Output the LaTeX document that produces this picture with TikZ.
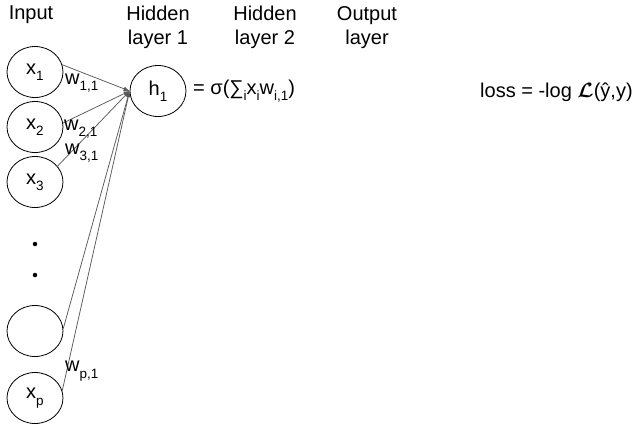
\documentclass[tikz,border=0pt]{standalone}
\usepackage{amsmath}
\usepackage{fontspec}
\setmainfont{Liberation Sans}
\usetikzlibrary{arrows.meta,shapes.geometric}
\newcommand{\lsub}[1]{\raisebox{-0.6ex}{\fontsize{13.5}{14}\selectfont #1}}
\begin{document}
\begin{tikzpicture}[x=1pt,y=-1pt,
  neuron/.style={draw, ellipse, minimum width=56pt, minimum height=51pt, inner sep=0pt, line width=0.8pt,
                 font=\fontsize{20}{24}\selectfont},
  lbl/.style={font=\fontsize{20}{24}\selectfont, align=center, inner sep=0pt, anchor=north},
  wlbl/.style={font=\fontsize{20}{24}\selectfont, inner sep=0pt, anchor=west},
  conn/.style={draw=black!65, line width=0.75pt, -{Latex[length=6pt,width=4.5pt]}},
  dotm/.style={circle, fill=black, inner sep=0pt, minimum size=4.5pt},
  ]
\useasboundingbox (0,0) rectangle (637,424);

% column titles
\node[lbl] (tin)  at (31,6)  {Input};
\node[lbl] (th1)  at (158,6) {Hidden\\layer 1};
\node[lbl] (th2)  at (265,6) {Hidden\\layer 2};
\node[lbl] (tout) at (367,6) {Output\\layer};

% input neurons
\node[neuron] (x1) at (35,72)  {x\lsub{1}};
\node[neuron] (x2) at (35,127) {x\lsub{2}};
\node[neuron] (x3) at (35,182) {x\lsub{3}};
\node[dotm] (d1) at (35,244) {};
\node[dotm] (d2) at (35,275) {};
\node[neuron] (xb) at (35,331) {};
\node[neuron] (xp) at (35,398) {x\lsub{p}};

% hidden neuron
\node[neuron] (h1) at (158,91) {h\lsub{1}};
\coordinate (hin) at (h1.west);

% connectors
\draw[conn] (x1.15)  -- (hin);
\draw[conn] (x2.8)   -- (hin);
\draw[conn] (x3.35)  -- (hin);
\draw[conn] (xb.5)   -- (hin);
\draw[conn] (xp.15)  -- (hin);

% weight labels
\node[wlbl] (w1) at (65,83)  {w\lsub{1,1}};
\node[wlbl] (w2) at (64,129) {w\lsub{2,1}};
\node[wlbl] (w3) at (65,153) {w\lsub{3,1}};
\node[wlbl] (wp) at (65,371) {w\lsub{p,1}};

% formulas
\node[wlbl] (eq)   at (193,91) {= σ(∑\lsub{i}x\lsub{i}w\lsub{i,1})};
\node[wlbl] (loss) at (480,92) {loss = -log \(\boldsymbol{\mathcal{L}}\)(ŷ,y)};
\end{tikzpicture}
\end{document}
